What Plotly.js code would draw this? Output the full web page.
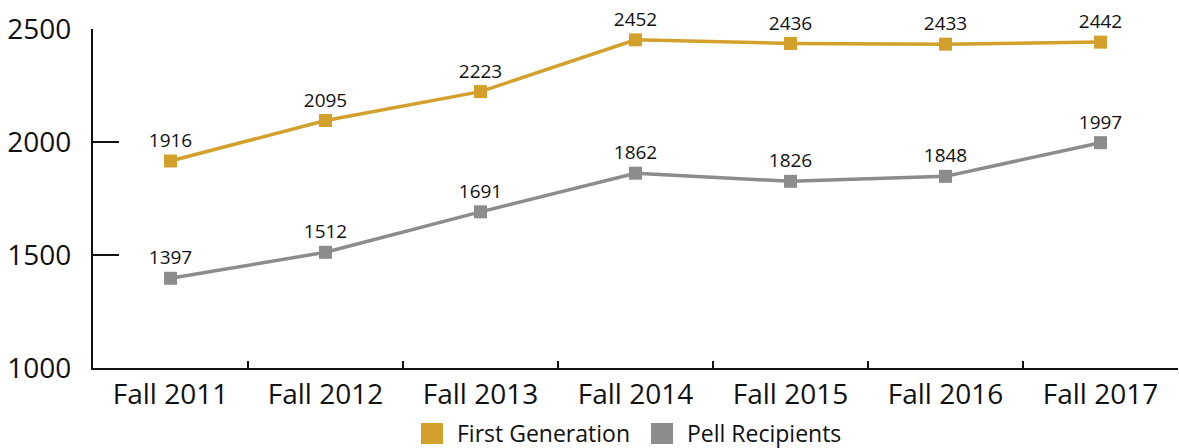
<!DOCTYPE html>
<html>
<head>
<meta charset="utf-8">
<script src="https://cdn.plot.ly/plotly-3.0.1.min.js"></script>
<style>html,body{margin:0;padding:0;background:#fff;}#chart{width:1179px;height:448px;}</style>
</head>
<body>
<div id="chart"></div>
<script>
const categories = ["Fall 2011","Fall 2012","Fall 2013","Fall 2014","Fall 2015","Fall 2016","Fall 2017"];
const firstGeneration = [1916, 2095, 2223, 2452, 2436, 2433, 2442];
const pellRecipients = [1397, 1512, 1691, 1862, 1826, 1848, 1997];
const seriesNames = ["First Generation", "Pell Recipients"];
const yTicks = [1000, 1500, 2000, 2500];

const gold = "#D4A02C";
const grey = "#8C8C8D";
const colors = [gold, grey];
const font = "Open Sans, Noto Sans, sans-serif";

function lineTrace(name, values, color) {
  return {
    type: "scatter", mode: "lines+markers+text",
    x: categories, y: values, name: name,
    text: values.map(String), textposition: "top center",
    textfont: {family: font, size: 19, color: "#111"},
    line: {color: color, width: 3.5},
    marker: {symbol: "square", size: 13, color: color},
    showlegend: false, cliponaxis: false
  };
}

const data = [
  lineTrace(seriesNames[0], firstGeneration, gold),
  lineTrace(seriesNames[1], pellRecipients, grey)
];

// Custom legend (squares + labels) placed below the plot in paper coordinates
const legendSquareX = [0.3023, 0.5143];
const legendSquareW = 0.0203;
const legendTextX = [0.3336, 0.5456];
const shapes = seriesNames.map((n, i) => ({
  type: "rect", xref: "paper", yref: "paper",
  x0: legendSquareX[i], x1: legendSquareX[i] + legendSquareW,
  y0: -0.1622, y1: -0.2242,
  fillcolor: colors[i], line: {width: 0}
}));
const annotations = seriesNames.map((n, i) => ({
  xref: "paper", yref: "paper", x: legendTextX[i], y: -0.1917,
  xanchor: "left", yanchor: "middle", showarrow: false,
  text: n, font: {family: font, size: 23, color: "#111"}
}));

const layout = {
  width: 1179, height: 448,
  margin: {l: 93, r: 1, t: 29, b: 80},
  paper_bgcolor: "#fff", plot_bgcolor: "#fff",
  font: {family: font, color: "#111"},
  showlegend: false,
  xaxis: {
    type: "category", range: [-0.5, 6.5],
    showgrid: false, zeroline: false,
    showline: true, linecolor: "#111", linewidth: 2,
    ticks: "inside", ticklen: 7, tickwidth: 1.5, tickcolor: "#111",
    tickson: "boundaries",
    tickfont: {family: font, size: 28, color: "#111"}
  },
  yaxis: {
    range: [1000, 2500], tickvals: yTicks,
    showgrid: false, zeroline: false,
    showline: true, linecolor: "#111", linewidth: 2,
    ticks: "inside", ticklen: 26, tickwidth: 2, tickcolor: "#111",
    ticklabelstandoff: 14,
    tickfont: {family: font, size: 28, color: "#111"}
  },
  shapes: shapes,
  annotations: annotations
};

Plotly.newPlot("chart", data, layout, {displayModeBar: false, staticPlot: true});
</script>
</body>
</html>
